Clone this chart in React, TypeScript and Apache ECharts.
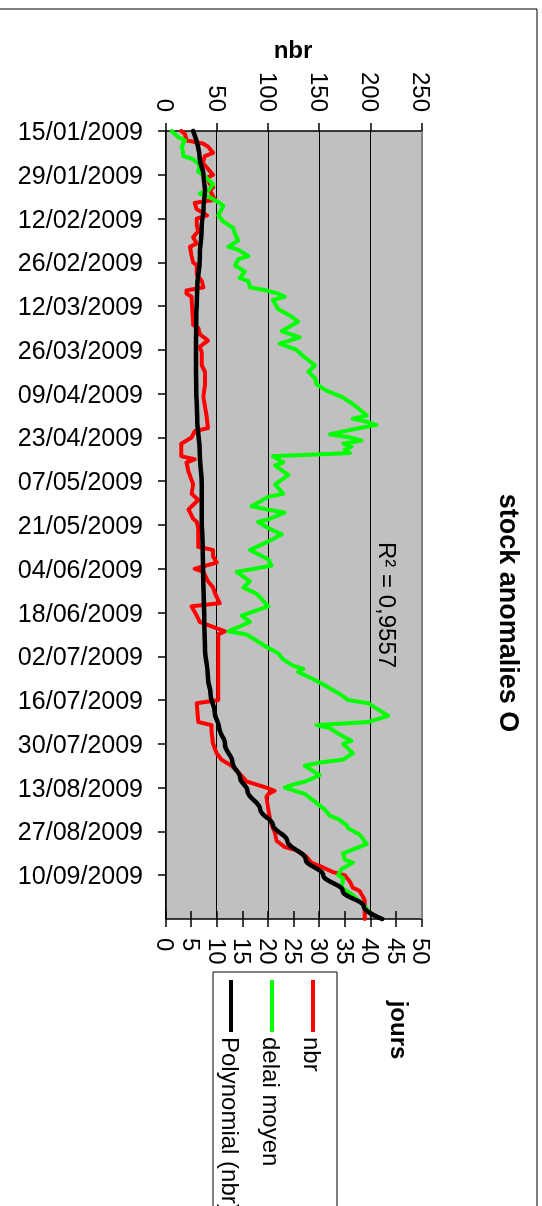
import React, { useEffect, useRef } from "react";
import * as echarts from "echarts";

const FONT = "'Liberation Sans', Arial, Helvetica, sans-serif";

const TITLE = "stock anomalies O";
const SERIES_NAMES = ["nbr", "delai moyen", "Polynomial (nbr)"];
const R2_LABEL = "R² = 0,9557";
const NBR_AXIS = { name: "nbr", min: 0, max: 250, step: 50 };
const JOURS_AXIS = { name: "jours", min: 0, max: 50, step: 5 };
const DATE_START = "2009-01-15";
const DATE_END = "2009-09-24";
const DATE_STEP_DAYS = 14;

const nbrDates = [
  "2009-01-15", "2009-01-16", "2009-01-18", "2009-01-19", "2009-01-20", "2009-01-22", "2009-01-23", "2009-01-25",
  "2009-01-26", "2009-01-29", "2009-01-30", "2009-02-01", "2009-02-02", "2009-02-03", "2009-02-05", "2009-02-06",
  "2009-02-07", "2009-02-09", "2009-02-11", "2009-02-12", "2009-02-14", "2009-02-16", "2009-02-18", "2009-02-20",
  "2009-02-21", "2009-02-24", "2009-02-26", "2009-02-27", "2009-03-02", "2009-03-04", "2009-03-06", "2009-03-07",
  "2009-03-08", "2009-03-09", "2009-03-18", "2009-03-19", "2009-03-21", "2009-03-23", "2009-03-25", "2009-03-27",
  "2009-03-31", "2009-04-02", "2009-04-06", "2009-04-10", "2009-04-16", "2009-04-20", "2009-04-21", "2009-04-23",
  "2009-04-25", "2009-04-29", "2009-04-30", "2009-05-01", "2009-05-04", "2009-05-08", "2009-05-11", "2009-05-13",
  "2009-05-16", "2009-05-19", "2009-05-20", "2009-05-22", "2009-05-28", "2009-05-29", "2009-05-31", "2009-06-02",
  "2009-06-04", "2009-06-05", "2009-06-08", "2009-06-10", "2009-06-12", "2009-06-15", "2009-06-16", "2009-06-19",
  "2009-06-21", "2009-06-22", "2009-06-24", "2009-06-25", "2009-07-16", "2009-07-17", "2009-07-23", "2009-07-24",
  "2009-07-26", "2009-07-30", "2009-08-02", "2009-08-04", "2009-08-06", "2009-08-08", "2009-08-11", "2009-08-13",
  "2009-08-14", "2009-08-15", "2009-08-16", "2009-08-20", "2009-08-23", "2009-08-26", "2009-08-27", "2009-08-30",
  "2009-09-01", "2009-09-02", "2009-09-04", "2009-09-06", "2009-09-07", "2009-09-09", "2009-09-10", "2009-09-12",
  "2009-09-14", "2009-09-15", "2009-09-17", "2009-09-18", "2009-09-24",
];
const nbrValues = [
  15, 18.5, 20, 36, 41, 46, 38, 36,
  38, 46, 40, 43, 46, 43, 46, 48,
  28, 30, 40, 30, 30, 31.5, 26.5, 30,
  23.5, 25, 26.5, 30, 30, 35, 36.5, 20,
  20, 25, 26.5, 31.5, 33, 41, 33, 35,
  35, 38, 38, 36.5, 39.5, 41, 28, 25,
  15, 15, 28, 20, 22, 26.5, 25, 31.5,
  22, 26.5, 30, 31.5, 31.5, 46, 46, 49.5,
  28, 36.5, 41, 46, 48, 52.5, 25, 30,
  33, 41, 57.5, 51, 51, 30, 31.5, 44.5,
  44.5, 46, 49.5, 54, 64, 70.5, 78.5, 98,
  106, 100, 98, 100, 101.5, 104.5, 106, 108,
  116, 127.5, 137, 142, 150, 163, 174.5, 179.5,
  182.5, 189, 192.5, 194, 194,
];

const delaiDates = [
  "2009-01-15", "2009-01-17", "2009-01-18", "2009-01-20", "2009-01-23", "2009-01-24", "2009-01-26", "2009-01-28",
  "2009-01-30", "2009-02-01", "2009-02-03", "2009-02-04", "2009-02-05", "2009-02-07", "2009-02-08", "2009-02-11",
  "2009-02-13", "2009-02-15", "2009-02-17", "2009-02-19", "2009-02-21", "2009-02-22", "2009-02-24", "2009-02-25",
  "2009-02-27", "2009-03-01", "2009-03-03", "2009-03-04", "2009-03-06", "2009-03-07", "2009-03-08", "2009-03-09",
  "2009-03-10", "2009-03-13", "2009-03-15", "2009-03-17", "2009-03-20", "2009-03-22", "2009-03-24", "2009-03-26",
  "2009-03-28", "2009-03-30", "2009-03-31", "2009-04-02", "2009-04-04", "2009-04-06", "2009-04-08", "2009-04-10",
  "2009-04-12", "2009-04-14", "2009-04-16", "2009-04-17", "2009-04-18", "2009-04-19", "2009-04-20", "2009-04-22",
  "2009-04-23", "2009-04-24", "2009-04-25", "2009-04-26", "2009-04-27", "2009-04-28", "2009-04-29", "2009-05-01",
  "2009-05-02", "2009-05-05", "2009-05-08", "2009-05-11", "2009-05-12", "2009-05-15", "2009-05-16", "2009-05-17",
  "2009-05-19", "2009-05-20", "2009-05-22", "2009-05-24", "2009-05-26", "2009-05-29", "2009-06-01", "2009-06-03",
  "2009-06-05", "2009-06-08", "2009-06-10", "2009-06-12", "2009-06-16", "2009-06-19", "2009-06-21", "2009-06-24",
  "2009-06-25", "2009-06-27", "2009-06-29", "2009-07-01", "2009-07-03", "2009-07-05", "2009-07-06", "2009-07-07",
  "2009-07-09", "2009-07-11", "2009-07-14", "2009-07-16", "2009-07-17", "2009-07-19", "2009-07-21", "2009-07-23",
  "2009-07-24", "2009-07-25", "2009-07-27", "2009-07-29", "2009-07-30", "2009-08-02", "2009-08-04", "2009-08-05",
  "2009-08-06", "2009-08-09", "2009-08-11", "2009-08-12", "2009-08-13", "2009-08-15", "2009-08-17", "2009-08-20",
  "2009-08-22", "2009-08-23", "2009-08-25", "2009-08-26", "2009-08-28", "2009-08-31", "2009-09-02", "2009-09-03",
  "2009-09-05", "2009-09-06", "2009-09-08", "2009-09-10", "2009-09-11", "2009-09-14", "2009-09-16", "2009-09-19",
  "2009-09-21",
];
const delaiValues = [
  1.1, 2.4, 3.7, 3.1, 3.4, 5.3, 6.6, 6.3,
  7.9, 9.2, 8.3, 6.6, 8.3, 10.5, 11.2, 10.2,
  11.2, 13.1, 13.5, 14.1, 12.2, 14.1, 16.1, 14.1,
  13.5, 15.4, 14.4, 16.1, 16.4, 19.6, 21.9, 23.2,
  20.9, 21.9, 24.2, 25.8, 22.6, 26.1, 22.2, 25.5,
  26.8, 28.4, 29.1, 27.8, 29.1, 29.4, 31.3, 34.3,
  36.2, 37.8, 39.2, 36.5, 39.2, 41.1, 37.8, 32.0,
  35.9, 38.2, 34.6, 36.2, 34.9, 35.9, 20.9, 22.9,
  21.3, 23.9, 21.3, 22.9, 20.0, 16.7, 19.6, 23.2,
  20.3, 18.0, 20.0, 22.6, 20.3, 16.4, 20.0, 20.6,
  13.8, 16.4, 15.1, 17.7, 20.0, 14.8, 16.4, 12.2,
  15.7, 17.7, 19.6, 21.9, 22.9, 24.8, 26.8, 25.8,
  28.4, 30.7, 33.9, 35.6, 39.5, 41.4, 43.4, 39.5,
  29.4, 32.0, 33.9, 36.2, 34.6, 36.5, 34.6, 30.0,
  27.1, 30.0, 27.3, 24.8, 23.2, 27.1, 28.7, 31.0,
  32.0, 33.6, 35.3, 35.6, 37.8, 39.2, 36.2, 34.6,
  34.9, 36.5, 34.3, 33.6, 34.6, 34.3, 36.2, 38.2,
  39.4,
];

const trendDates = [
  "2009-01-15", "2009-01-24", "2009-01-29", "2009-02-03", "2009-02-09", "2009-02-14", "2009-02-25", "2009-03-06",
  "2009-03-17", "2009-03-28", "2009-04-07", "2009-04-17", "2009-04-28", "2009-05-08", "2009-05-19", "2009-05-28",
  "2009-06-08", "2009-06-19", "2009-06-29", "2009-07-09", "2009-07-14", "2009-07-20", "2009-07-25", "2009-07-30",
  "2009-08-05", "2009-08-10", "2009-08-14", "2009-08-20", "2009-08-25", "2009-08-30", "2009-09-05", "2009-09-10",
  "2009-09-15", "2009-09-20", "2009-09-24",
];
const trendValues = [
  26.5, 33, 36.5, 38, 36.5, 35, 33, 30.5,
  29.5, 29.3, 29.5, 30.5, 33, 34.8, 35, 36,
  36.4, 37.3, 38, 41, 43.5, 47.5, 52, 57.5,
  65, 72.5, 79.5, 92, 104.5, 118.5, 136.5, 153.5,
  172.5, 193, 211,
];

const toTime = (d: string) => Date.parse(d + "T00:00:00Z");
const pairs = (dates: string[], values: number[]) => dates.map((d, i) => [toTime(d), values[i]]);
const pad = (n: number) => (n < 10 ? "0" + n : String(n));
const fmtDate = (v: number) => {
  const d = new Date(v);
  return pad(d.getUTCDate()) + "/" + pad(d.getUTCMonth() + 1) + "/" + d.getUTCFullYear();
};

export default function App() {
  const ref = useRef<HTMLDivElement>(null);
  useEffect(() => {
    const el = ref.current;
    if (!el) return;
    const chart = echarts.init(el, undefined, { renderer: "svg" });
    const black = "#000000";
    const labelStyle = { color: black, fontSize: 24, fontFamily: FONT };
    chart.setOption({
      animation: false,
      backgroundColor: "#ffffff",
      textStyle: { fontFamily: FONT },
      grid: {
        left: 131,
        right: 287,
        top: 120,
        bottom: 166,
        show: true,
        backgroundColor: "#C0C0C0",
        borderWidth: 0,
      },
      xAxis: {
        type: "value",
        min: toTime(DATE_START),
        max: toTime(DATE_END),
        interval: DATE_STEP_DAYS * 86400000,
        axisLine: { show: true, lineStyle: { color: black, width: 1.5 } },
        axisTick: { show: true, length: 8, lineStyle: { color: black, width: 1.5 } },
        axisLabel: { ...labelStyle, fontSize: 25, rotate: 90, margin: 23, formatter: fmtDate, showMaxLabel: false },
        splitLine: { show: false },
      },
      yAxis: [
        {
          type: "value",
          position: "left",
          min: NBR_AXIS.min,
          max: NBR_AXIS.max,
          interval: NBR_AXIS.step,
          axisLine: { show: true, lineStyle: { color: black, width: 1.5 } },
          axisTick: { show: true, length: 8, lineStyle: { color: black, width: 1.5 } },
          axisLabel: { ...labelStyle, margin: 19 },
          splitLine: { show: true, lineStyle: { color: black, width: 1 } },
        },
        {
          type: "value",
          position: "right",
          min: JOURS_AXIS.min,
          max: JOURS_AXIS.max,
          interval: JOURS_AXIS.step,
          axisLine: { show: true, lineStyle: { color: black, width: 1.5 } },
          axisTick: { show: true, length: 8, lineStyle: { color: black, width: 1.5 } },
          axisLabel: { ...labelStyle, margin: 19 },
          splitLine: { show: false },
        },
        {
          type: "value",
          position: "right",
          offset: 0,
          min: JOURS_AXIS.min,
          max: JOURS_AXIS.max,
          interval: JOURS_AXIS.step,
          axisLine: { show: false },
          axisTick: { show: true, inside: true, length: 8, lineStyle: { color: black, width: 1.5 } },
          axisLabel: { show: false },
          splitLine: { show: false },
        },
      ],
      legend: {
        data: SERIES_NAMES,
        orient: "vertical",
        left: 980,
        top: 217,
        padding: 0,
        itemGap: 17,
        itemWidth: 52,
        itemHeight: 4,
        icon: "rect",
        textStyle: { ...labelStyle, lineHeight: 24 },
      },
      graphic: [
        {
          type: "rect",
          silent: true,
          shape: { x: 9, y: 5, width: 1400, height: 800 },
          style: { fill: "none", stroke: black, lineWidth: 1 },
        },
        {
          type: "line",
          silent: true,
          z: 100,
          shape: { x1: 131, y1: 120, x2: 919, y2: 120 },
          style: { stroke: "#808080", lineWidth: 2 },
        },
        {
          type: "rect",
          silent: true,
          shape: { x: 972, y: 205, width: 400, height: 124 },
          style: { fill: "none", stroke: black, lineWidth: 1 },
        },
        {
          type: "text",
          x: 613,
          y: 33,
          style: {
            text: TITLE,
            fill: black,
            fontSize: 27,
            fontWeight: "bold",
            fontFamily: FONT,
            textAlign: "center",
            textVerticalAlign: "middle",
          },
        },
        {
          type: "text",
          x: 49,
          y: 249,
          rotation: Math.PI / 2,
          style: {
            text: NBR_AXIS.name,
            fill: black,
            fontSize: 24,
            fontWeight: "bold",
            fontFamily: FONT,
            textAlign: "center",
            textVerticalAlign: "middle",
          },
        },
        {
          type: "text",
          x: 1030,
          y: 142,
          style: {
            text: JOURS_AXIS.name,
            fill: black,
            fontSize: 24,
            fontWeight: "bold",
            fontFamily: FONT,
            textAlign: "center",
            textVerticalAlign: "middle",
          },
        },
        {
          type: "text",
          x: 542,
          y: 154,
          style: {
            text: R2_LABEL,
            fill: black,
            fontSize: 24,
            fontFamily: FONT,
            textAlign: "left",
            textVerticalAlign: "middle",
          },
        },
      ],
      series: [
        {
          name: SERIES_NAMES[0],
          type: "line",
          yAxisIndex: 0,
          data: pairs(nbrDates, nbrValues),
          showSymbol: false,
          symbol: "none",
          itemStyle: { color: "#FF0000" },
          lineStyle: { color: "#FF0000", width: 4, join: "round", cap: "round" },
        },
        {
          name: SERIES_NAMES[1],
          type: "line",
          yAxisIndex: 1,
          data: pairs(delaiDates, delaiValues),
          showSymbol: false,
          symbol: "none",
          itemStyle: { color: "#00FF00" },
          lineStyle: { color: "#00FF00", width: 4, join: "round", cap: "round" },
        },
        {
          name: SERIES_NAMES[2],
          type: "line",
          yAxisIndex: 0,
          data: pairs(trendDates, trendValues),
          smooth: 0.4,
          smoothMonotone: "x",
          showSymbol: false,
          symbol: "none",
          itemStyle: { color: black },
          lineStyle: { color: black, width: 4.5, join: "round", cap: "round" },
        },
      ],
    });
    return () => chart.dispose();
  }, []);

  return (
    <div
      ref={ref}
      style={{
        position: "fixed",
        left: 0,
        top: 0,
        width: 1206,
        height: 542,
        transformOrigin: "0 0",
        transform: "translateX(542px) rotate(90deg)",
        background: "#ffffff",
      }}
    />
  );
}
